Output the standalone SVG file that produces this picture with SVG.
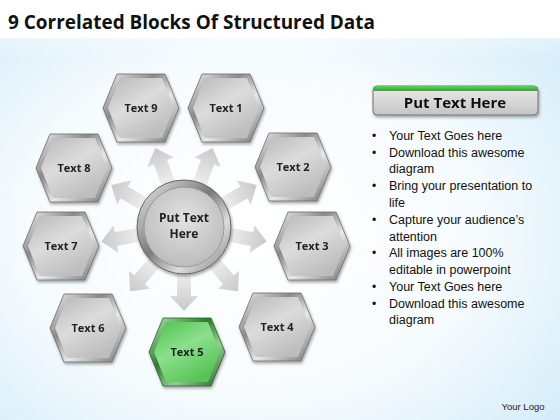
<svg xmlns="http://www.w3.org/2000/svg" width="560" height="420" viewBox="0 0 560 420">
<defs>
<style>
.lbl{font-family:"Open Sans","Liberation Sans",sans-serif;font-weight:bold;font-size:11px;fill:#222;text-anchor:middle}
.bul{font-family:"Liberation Sans",Arial,sans-serif;font-size:12.5px;fill:#111}
.dot{font-family:"Liberation Sans",Arial,sans-serif;font-size:12px;fill:#111}
.arrow{fill:url(#arrowG)}
</style>
<radialGradient id="bg" cx="0.45" cy="0.55" r="0.75">
<stop offset="0" stop-color="#ffffff"/>
<stop offset="0.55" stop-color="#f6fbfe"/>
<stop offset="1" stop-color="#cfeaf8"/>
</radialGradient>
<linearGradient id="bgTop" x1="0" y1="0" x2="0" y2="1">
<stop offset="0" stop-color="#ffffff"/>
<stop offset="1" stop-color="#ffffff" stop-opacity="0"/>
</linearGradient>
<linearGradient id="arrowG" x1="0" y1="0" x2="1" y2="0">
<stop offset="0" stop-color="#f4f4f4"/>
<stop offset="1" stop-color="#c9c9c9"/>
</linearGradient>
<linearGradient id="rim" x1="0" y1="0" x2="1" y2="1">
<stop offset="0" stop-color="#f2f2f2"/>
<stop offset="0.35" stop-color="#8a8a8a"/>
<stop offset="0.6" stop-color="#e8e8e8"/>
<stop offset="1" stop-color="#6e6e6e"/>
</linearGradient>
<linearGradient id="hexFill" x1="0" y1="0" x2="0.6" y2="1">
<stop offset="0" stop-color="#b8b8b8"/>
<stop offset="0.5" stop-color="#dcdcdc"/>
<stop offset="1" stop-color="#bdbdbd"/>
</linearGradient>
<linearGradient id="greenRim" x1="0" y1="0" x2="1" y2="1">
<stop offset="0" stop-color="#b9e9b9"/>
<stop offset="0.4" stop-color="#2f7a2f"/>
<stop offset="0.65" stop-color="#8fd08f"/>
<stop offset="1" stop-color="#1f5f1f"/>
</linearGradient>
<linearGradient id="greenFill" x1="0" y1="0" x2="0.6" y2="1">
<stop offset="0" stop-color="#4cc24c"/>
<stop offset="0.5" stop-color="#8ddf8d"/>
<stop offset="1" stop-color="#56c456"/>
</linearGradient>
<linearGradient id="circRim" x1="0" y1="0" x2="1" y2="1">
<stop offset="0" stop-color="#f0f0f0"/>
<stop offset="0.45" stop-color="#7a7a7a"/>
<stop offset="0.7" stop-color="#dddddd"/>
<stop offset="1" stop-color="#777777"/>
</linearGradient>
<radialGradient id="circFill" cx="0.5" cy="0.4" r="0.6">
<stop offset="0" stop-color="#e2e2e2"/>
<stop offset="1" stop-color="#bcbcbc"/>
</radialGradient>
<linearGradient id="btnFill" x1="0" y1="0" x2="0" y2="1">
<stop offset="0" stop-color="#ececec"/>
<stop offset="1" stop-color="#c4c4c4"/>
</linearGradient>
<linearGradient id="btnTop" x1="0" y1="0" x2="0" y2="1">
<stop offset="0" stop-color="#5fd35f"/>
<stop offset="1" stop-color="#2ea52e"/>
</linearGradient>
<filter id="sh" x="-20%" y="-20%" width="140%" height="140%">
<feGaussianBlur in="SourceAlpha" stdDeviation="1.5"/>
<feOffset dx="1" dy="2"/>
<feComponentTransfer><feFuncA type="linear" slope="0.35"/></feComponentTransfer>
<feMerge><feMergeNode/><feMergeNode in="SourceGraphic"/></feMerge>
</filter>
<polygon id="hexOuter" points="-38,0 -24,-34 24,-34 38,0 24,34 -24,34"/>
<polygon id="hexInner" points="-33,0 -21,-30 21,-30 33,0 21,30 -21,30"/>
<polygon id="arr" points="40,-7 69,-7 69,-14 84,0 69,14 69,7 40,7"/>
</defs>

<rect width="560" height="420" fill="url(#bg)"/>
<rect width="560" height="60" fill="url(#bgTop)"/>
<rect width="560" height="38" fill="#ffffff"/>

<text x="8" y="29" font-family="Open Sans,Liberation Sans,sans-serif" font-weight="bold" font-size="19" fill="#111" textLength="367" lengthAdjust="spacingAndGlyphs">9 Correlated Blocks Of Structured Data</text>

<g id="connectors" transform="translate(184,227)">
<use href="#arr" class="arrow" transform="rotate(10)"/>
<use href="#arr" class="arrow" transform="rotate(50)"/>
<use href="#arr" class="arrow" transform="rotate(90)"/>
<use href="#arr" class="arrow" transform="rotate(130)"/>
<use href="#arr" class="arrow" transform="rotate(170)"/>
<use href="#arr" class="arrow" transform="rotate(210)"/>
<use href="#arr" class="arrow" transform="rotate(250)"/>
<use href="#arr" class="arrow" transform="rotate(290)"/>
<use href="#arr" class="arrow" transform="rotate(330)"/>
</g>

<g id="center" filter="url(#sh)">
<circle cx="184" cy="227" r="47" fill="url(#circRim)" stroke="#666" stroke-width="1"/>
<circle cx="184" cy="227" r="40" fill="url(#circFill)" stroke="#9a9a9a" stroke-width="1"/>
<text x="184" y="222" class="lbl" style="font-size:12px">Put Text</text>
<text x="184" y="238" class="lbl" style="font-size:12px">Here</text>
</g>

<g id="node1" transform="translate(226,108)" filter="url(#sh)">
<use href="#hexOuter" fill="url(#rim)" stroke="#6a6a6a" stroke-width="0.8"/>
<use href="#hexInner" fill="url(#hexFill)"/>
<text y="4" class="lbl">Text 1</text>
</g>
<g id="node2" transform="translate(293,167)" filter="url(#sh)">
<use href="#hexOuter" fill="url(#rim)" stroke="#6a6a6a" stroke-width="0.8"/>
<use href="#hexInner" fill="url(#hexFill)"/>
<text y="4" class="lbl">Text 2</text>
</g>
<g id="node3" transform="translate(312,246)" filter="url(#sh)">
<use href="#hexOuter" fill="url(#rim)" stroke="#6a6a6a" stroke-width="0.8"/>
<use href="#hexInner" fill="url(#hexFill)"/>
<text y="4" class="lbl">Text 3</text>
</g>
<g id="node4" transform="translate(277,327)" filter="url(#sh)">
<use href="#hexOuter" fill="url(#rim)" stroke="#6a6a6a" stroke-width="0.8"/>
<use href="#hexInner" fill="url(#hexFill)"/>
<text y="4" class="lbl">Text 4</text>
</g>
<g id="node5" transform="translate(187,352)" filter="url(#sh)">
<use href="#hexOuter" fill="url(#greenRim)" stroke="#2a5f2a" stroke-width="0.8"/>
<use href="#hexInner" fill="url(#greenFill)"/>
<text y="4" class="lbl">Text 5</text>
</g>
<g id="node6" transform="translate(88,328)" filter="url(#sh)">
<use href="#hexOuter" fill="url(#rim)" stroke="#6a6a6a" stroke-width="0.8"/>
<use href="#hexInner" fill="url(#hexFill)"/>
<text y="4" class="lbl">Text 6</text>
</g>
<g id="node7" transform="translate(61,246)" filter="url(#sh)">
<use href="#hexOuter" fill="url(#rim)" stroke="#6a6a6a" stroke-width="0.8"/>
<use href="#hexInner" fill="url(#hexFill)"/>
<text y="4" class="lbl">Text 7</text>
</g>
<g id="node8" transform="translate(74,168)" filter="url(#sh)">
<use href="#hexOuter" fill="url(#rim)" stroke="#6a6a6a" stroke-width="0.8"/>
<use href="#hexInner" fill="url(#hexFill)"/>
<text y="4" class="lbl">Text 8</text>
</g>
<g id="node9" transform="translate(141,108)" filter="url(#sh)">
<use href="#hexOuter" fill="url(#rim)" stroke="#6a6a6a" stroke-width="0.8"/>
<use href="#hexInner" fill="url(#hexFill)"/>
<text y="4" class="lbl">Text 9</text>
</g>

<g id="header" filter="url(#sh)">
<rect x="373" y="86" width="165" height="29" rx="4" fill="url(#btnFill)" stroke="#707070" stroke-width="1"/>
<path d="M373.5,91 V90 a4,4 0 0 1 4,-4 H534 a4,4 0 0 1 4,4 V91 Z" fill="url(#btnTop)"/>
<text x="455" y="108" font-family="Open Sans,Liberation Sans,sans-serif" font-weight="bold" font-size="15" fill="#111" text-anchor="middle">Put Text Here</text>
</g>

<g id="bullets">
<text x="372" y="140" class="dot">•</text><text x="389" y="140" class="bul">Your Text Goes here</text>
<text x="372" y="157" class="dot">•</text><text x="389" y="157" class="bul">Download this awesome</text>
<text x="389" y="173" class="bul">diagram</text>
<text x="372" y="190" class="dot">•</text><text x="389" y="190" class="bul">Bring your presentation to</text>
<text x="389" y="207" class="bul">life</text>
<text x="372" y="224" class="dot">•</text><text x="389" y="224" class="bul">Capture your audience’s</text>
<text x="389" y="241" class="bul">attention</text>
<text x="372" y="257" class="dot">•</text><text x="389" y="257" class="bul">All images are 100%</text>
<text x="389" y="274" class="bul">editable in powerpoint</text>
<text x="372" y="291" class="dot">•</text><text x="389" y="291" class="bul">Your Text Goes here</text>
<text x="372" y="308" class="dot">•</text><text x="389" y="308" class="bul">Download this awesome</text>
<text x="389" y="324" class="bul">diagram</text>
</g>

<text x="523" y="410" font-family="Liberation Sans,Arial,sans-serif" font-size="9.5" fill="#222" text-anchor="middle">Your Logo</text>
</svg>
